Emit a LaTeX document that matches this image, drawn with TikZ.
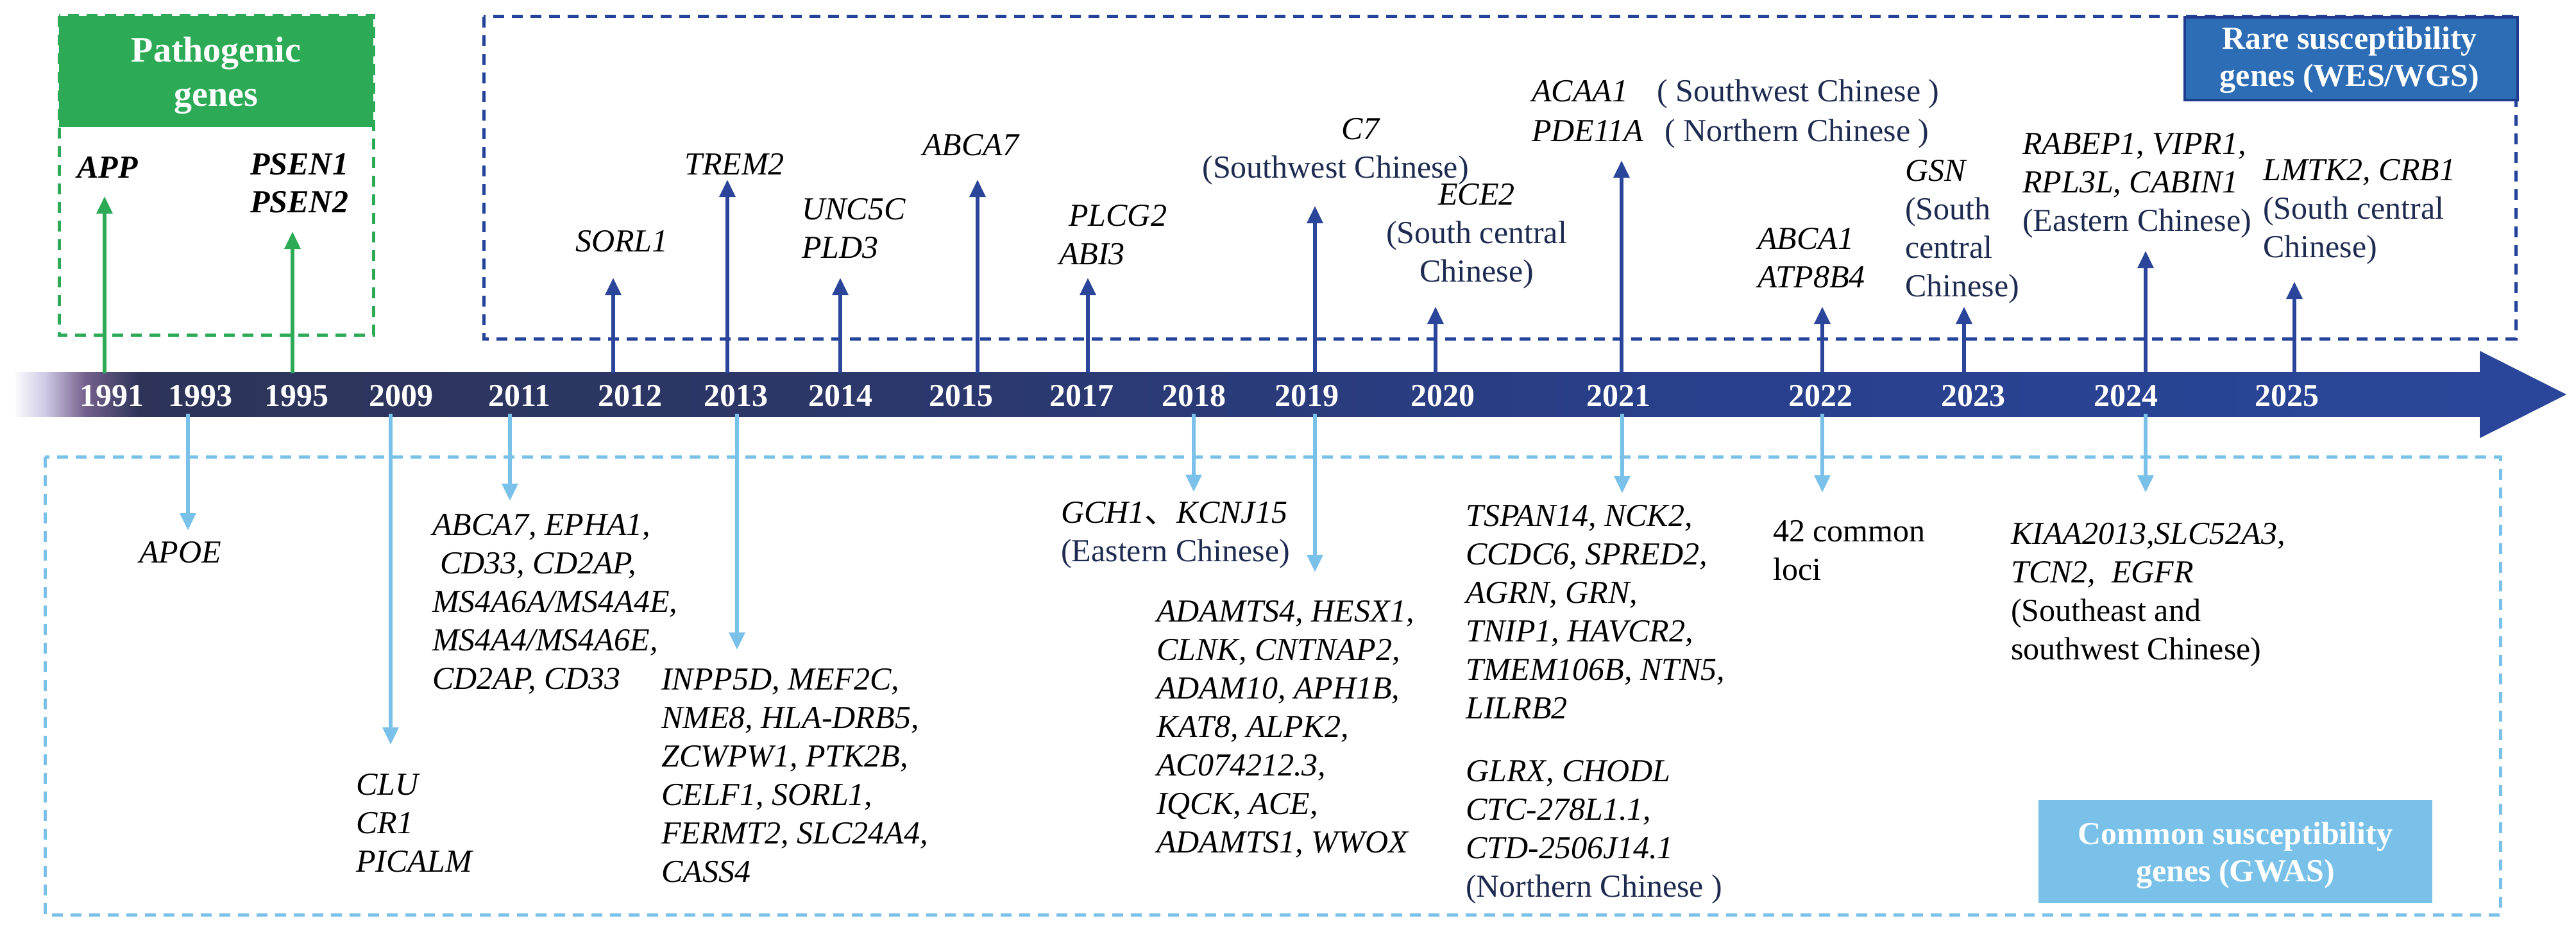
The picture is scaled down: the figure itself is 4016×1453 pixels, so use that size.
\documentclass[tikz,border=0pt]{standalone}
\usepackage{fontspec}
\setmainfont{Liberation Serif}
\newfontfamily\cjkfont{Noto Sans CJK SC}
\usetikzlibrary{arrows.meta}
\definecolor{greenC}{HTML}{2DAA56}
\definecolor{darkB}{HTML}{23429A}
\definecolor{arrowB}{HTML}{2A4599}
\definecolor{lightB}{HTML}{79C1E8}
\definecolor{rareFill}{HTML}{2C6DB6}
\definecolor{rareEdge}{HTML}{1F3C8E}
\definecolor{navyT}{HTML}{1E2B50}
\definecolor{barA}{RGB}{250,250,253}
\definecolor{barB}{RGB}{205,200,228}
\definecolor{barC}{RGB}{118,98,142}
\definecolor{barD}{RGB}{45,52,88}
\definecolor{barE}{RGB}{44,55,105}
\definecolor{barF}{RGB}{40,63,138}
\begin{document}
\begin{tikzpicture}[x=1pt,y=-1pt,
  gene/.style={font=\fontsize{50}{60}\selectfont\itshape, align=left, anchor=base west, inner sep=0pt, text=black},
  genec/.style={gene, align=center, anchor=base},
  plain/.style={font=\fontsize{50}{60}\selectfont, align=left, anchor=base west, inner sep=0pt, text=black},
  year/.style={font=\fontsize{50}{60}\selectfont\bfseries, text=white, anchor=base, inner sep=0pt},
  headtxt/.style={text=white, align=center, anchor=base, inner sep=0pt},
  tipA/.style={-{Triangle[length=27pt,width=24pt]}},
  greenarrow/.style={tipA, line width=6pt, draw=greenC},
  bluearrow/.style={tipA, line width=6pt, draw=arrowB},
  lightarrow/.style={tipA, line width=6pt, draw=lightB},
  dashbox/.style={line width=5pt, dash pattern=on 17pt off 12pt}]
\useasboundingbox (0,0) rectangle (4016,1453);
\fill[white] (0,0) rectangle (4016,1453);

% ---------------- timeline bar ----------------
\fill[left color=barA,right color=barB] (24,580) rectangle (72,649);
\fill[left color=barB,right color=barC] (71,580) rectangle (132,649);
\fill[left color=barC,right color=barD] (131,580) rectangle (217,649);
\fill[left color=barD,right color=barE] (216,580) rectangle (1302,649);
\fill[left color=barE,right color=barF] (1301,580) rectangle (2602,649);
\fill[left color=barF,right color=arrowB] (2601,580) rectangle (3868,649);
\fill[arrowB] (3866,547) -- (4001,615) -- (3866,683) -- cycle;

% ---------------- boxes ----------------
\fill[greenC] (92,25) rectangle (582,198);
\draw[dashbox, draw=greenC] (92,25) rectangle (582,522);
\draw[dashbox, draw=darkB] (754,26) rectangle (3922,528);
\draw[dashbox, draw=lightB] (70,712) rectangle (3898,1426);
\node[draw=rareEdge, line width=4pt, fill=rareFill, minimum width=519pt, minimum height=129pt, anchor=north west, inner sep=0pt] (rarebox) at (3404,25) {};
\node[fill=lightB, minimum width=614pt, minimum height=161pt, anchor=north west, inner sep=0pt] (commonbox) at (3178,1247) {};

% (multi-line nodes: base anchor = baseline of the last line)
\node[headtxt, font=\fontsize{56}{69}\selectfont\bfseries] (pathohead) at (337,165) {Pathogenic\\genes};
\node[headtxt, font=\fontsize{50}{58}\selectfont\bfseries] (rarehead) at (3663,135) {Rare susceptibility\\genes (WES/WGS)};
\node[headtxt, font=\fontsize{50}{58}\selectfont\bfseries] (commonhead) at (3485,1374) {Common susceptibility\\genes (GWAS)};

% ---------------- years ----------------
\foreach \yr/\xx in {1991/174,1993/312,1995/462,2009/625,2011/810,2012/982,2013/1147,2014/1310,2015/1498,2017/1686,2018/1861,2019/2037,2020/2249,2021/2523,2022/2838,2023/3076,2024/3314,2025/3565}
  \node[year] (y\yr) at (\xx,633) {\yr};

% ---------------- upward arrows ----------------
\foreach \nm/\xx/\tip in {a1991/163/306, a1995/456/361}{
  \coordinate (s\nm) at (\xx,582);
  \coordinate (t\nm) at (\xx,\tip);
  \draw[greenarrow] (s\nm) -- (t\nm);
}
\foreach \nm/\xx/\tip in {a2012/956/433, a2013/1134/280, a2014/1310/433, a2015/1524/280, a2017/1696/433, a2019/2050/321, a2020/2238/478, a2021/2528/250, a2022/2841/478, a2023/3062/478, a2024/3345/391, a2025/3577/439}{
  \coordinate (s\nm) at (\xx,582);
  \coordinate (t\nm) at (\xx,\tip);
  \draw[bluearrow] (s\nm) -- (t\nm);
}

% ---------------- downward arrows ----------------
\foreach \nm/\xx/\tip in {d1993/293/827, d2009/609/1161, d2011/795/781, d2013/1149/1013, d2018/1861/767, d2019/2050/892, d2021/2529/769, d2022/2841/768, d2024/3345/768}{
  \coordinate (s\nm) at (\xx,645);
  \coordinate (t\nm) at (\xx,\tip);
  \draw[lightarrow] (s\nm) -- (t\nm);
}

% ---------------- upper gene labels ----------------
\node[gene, font=\fontsize{50}{60}\selectfont\bfseries\itshape] (app) at (120,277) {APP};
\node[gene, font=\fontsize{50}{59}\selectfont\bfseries\itshape] (psen) at (390,331) {PSEN1\\PSEN2};
\node[gene] (sorl) at (897,392) {SORL1};
\node[gene] (trem) at (1067,272) {TREM2};
\node[gene] (unc) at (1250,402) {UNC5C\\PLD3};
\node[gene] (abca7) at (1438,242) {ABCA7};
\node[gene] (plcg) at (1651,412) {\hspace*{15pt}PLCG2\\ABI3};
\node[genec] (c7) at (2082,277) {\hspace*{78pt}C7\\{\upshape\color{navyT}(Southwest Chinese)}};
\node[genec] (ece) at (2302,439) {ECE2\\{\upshape\color{navyT}(South central}\\{\upshape\color{navyT}Chinese)}};
\node[gene, font=\fontsize{50}{62}\selectfont\itshape] (acaa) at (2388,220) {\makebox[195pt][l]{ACAA1}{\upshape\color{navyT}( Southwest Chinese )}\\\makebox[207pt][l]{PDE11A}{\upshape\color{navyT}( Northern Chinese )}};
\node[gene] (abca1) at (2740,448) {ABCA1\\ATP8B4};
\node[gene] (gsn) at (2970,462) {GSN\\{\upshape\color{navyT}(South}\\{\upshape\color{navyT}central}\\{\upshape\color{navyT}Chinese)}};
\node[gene] (rab) at (3153,360) {RABEP1, VIPR1,\\RPL3L, CABIN1\\{\upshape\color{navyT}(Eastern Chinese)}};
\node[gene] (lmtk) at (3528,401) {LMTK2, CRB1\\{\upshape\color{navyT}(South central}\\{\upshape\color{navyT}Chinese)}};

% ---------------- lower gene labels ----------------
\node[gene] (apoe) at (217,877) {APOE};
\node[gene] (clu) at (555,1359) {CLU\\CR1\\PICALM};
\node[gene] (abca7b) at (674,1074) {ABCA7, EPHA1,\\\hspace*{12pt}CD33, CD2AP,\\MS4A6A/MS4A4E,\\MS4A4/MS4A6E,\\CD2AP, CD33};
\node[gene] (inpp) at (1031,1375) {INPP5D, MEF2C,\\NME8, HLA-DRB5,\\ZCWPW1, PTK2B,\\CELF1, SORL1,\\FERMT2, SLC24A4,\\CASS4};
\node[gene] (gch) at (1654,875) {GCH1{\upshape\cjkfont 、}KCNJ15\\{\upshape\color{navyT}(Eastern Chinese)}};
\node[gene] (adamts) at (1803,1329) {ADAMTS4, HESX1,\\CLNK, CNTNAP2,\\ADAM10, APH1B,\\KAT8, ALPK2,\\AC074212.3,\\IQCK, ACE,\\ADAMTS1, WWOX};
\node[gene] (tspan) at (2285,1120) {TSPAN14, NCK2,\\CCDC6, SPRED2,\\AGRN, GRN,\\TNIP1, HAVCR2,\\TMEM106B, NTN5,\\LILRB2};
\node[gene] (glrx) at (2285,1398) {GLRX, CHODL\\CTC-278L1.1,\\CTD-2506J14.1\\{\upshape\color{navyT}(Northern Chinese )}};
\node[plain] (loci) at (2764,904) {42 common\\loci};
\node[gene] (kiaa) at (3135,1028) {KIAA2013,SLC52A3,\\TCN2,\ \ EGFR\\{\upshape (Southeast and}\\{\upshape southwest Chinese)}};
\end{tikzpicture}
\end{document}
